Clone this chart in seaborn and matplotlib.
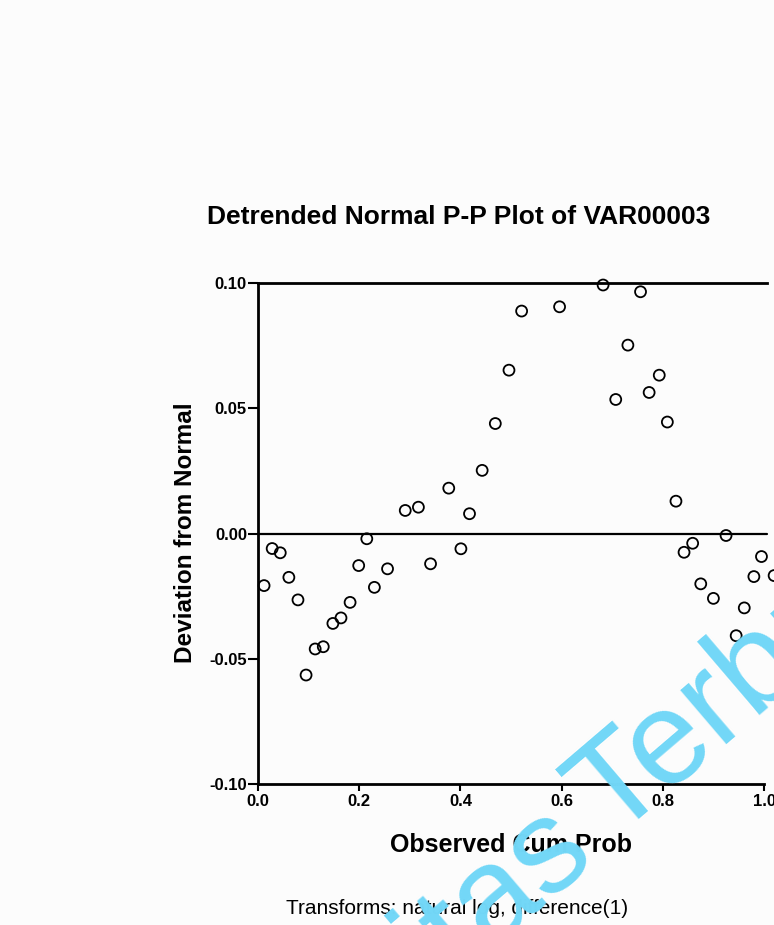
import numpy as np
import pandas as pd
import matplotlib
matplotlib.use("Agg")
import matplotlib.pyplot as plt
import seaborn as sns

# ---- data ----
observed_cum_prob = [0.012, 0.028, 0.044, 0.061, 0.079, 0.095, 0.113, 0.129, 0.148, 0.164,
                     0.182, 0.199, 0.215, 0.230, 0.256, 0.291, 0.317, 0.341, 0.377, 0.401,
                     0.418, 0.443, 0.469, 0.496, 0.521, 0.596, 0.682, 0.707, 0.731, 0.756,
                     0.773, 0.793, 0.809, 0.826, 0.842, 0.859, 0.875, 0.900, 0.925, 0.945,
                     0.961, 0.980, 0.995, 1.020]
deviation = [-0.0208, -0.0060, -0.0077, -0.0175, -0.0265, -0.0565, -0.0461, -0.0452, -0.0359, -0.0337,
             -0.0275, -0.0128, -0.0021, -0.0215, -0.0141, 0.0092, 0.0105, -0.0121, 0.0181, -0.0061,
             0.0079, 0.0252, 0.0439, 0.0652, 0.0888, 0.0905, 0.0992, 0.0535, 0.0752, 0.0965,
             0.0563, 0.0632, 0.0445, 0.0129, -0.0075, -0.0039, -0.0201, -0.0259, -0.0008, -0.0408,
             -0.0297, -0.0172, -0.0092, -0.0168]
x_ticks = [0.0, 0.2, 0.4, 0.6, 0.8, 1.0]
x_tick_labels = ["0.0", "0.2", "0.4", "0.6", "0.8", "1.0"]
y_ticks = [-0.10, -0.05, 0.00, 0.05, 0.10]
y_tick_labels = ["-0.10", "-0.05", "0.00", "0.05", "0.10"]
title = "Detrended Normal P-P Plot of VAR00003"
x_label = "Observed Cum Prob"
y_label = "Deviation from Normal"
caption = "Transforms: natural log, difference(1)"
watermark_words = ["Universitas", "Terbuka"]

df = pd.DataFrame({"x": observed_cum_prob, "y": deviation})

sns.set_theme(style="white")
plt.rcParams["font.family"] = ["Liberation Sans", "DejaVu Sans"]
plt.rcParams["text.color"] = "black"
plt.rcParams["xtick.color"] = "black"
plt.rcParams["ytick.color"] = "black"
plt.rcParams["axes.labelcolor"] = "black"

W, H = 774, 925
fig = plt.figure(figsize=(W / 100, H / 100), dpi=100, facecolor="#fcfcfc")
ax = fig.add_axes([258 / W, 141 / H, 506 / W, 501 / H])
ax.set_facecolor("#fcfcfc")

sns.scatterplot(data=df, x="x", y="y", ax=ax, marker="o", s=62,
                facecolors="none", edgecolor="black", linewidth=1.3,
                clip_on=False, zorder=3)

ax.axhline(0, xmin=0, xmax=1.005, color="black", lw=1.6, zorder=2, clip_on=False)
ax.set_xlim(0, 1.0)
ax.set_ylim(-0.10, 0.10)
ax.set_xticks(x_ticks)
ax.set_xticklabels(x_tick_labels, fontsize=12, fontweight="bold")
ax.set_yticks(y_ticks)
ax.set_yticklabels(y_tick_labels, fontsize=12, fontweight="bold")
ax.tick_params(axis="y", direction="out", length=7, width=1.5, color="black",
               pad=1, left=True)
ax.tick_params(axis="x", direction="out", length=5, width=1.5, color="black",
               pad=2, bottom=True)

for side in ["left", "bottom", "top"]:
    ax.spines[side].set_visible(True)
    ax.spines[side].set_color("black")
    ax.spines[side].set_linewidth(2)
ax.spines["right"].set_visible(False)
ax.spines["top"].set_bounds(0, 1.005)

ax.set_xlabel("")
ax.set_ylabel("")
fig.text(511 / W, 1 - 845 / H, x_label, ha="center", va="center",
         fontsize=18, fontweight="bold")
fig.text(186 / W, 1 - 533 / H, y_label, ha="center", va="center",
         rotation=90, fontsize=17.5, fontweight="bold")
fig.text(459 / W, 1 - 217 / H, title, ha="center", va="center",
         fontsize=19, fontweight="bold")
fig.text(457 / W, 1 - 908 / H, caption, ha="center", va="center",
         fontsize=15)

# watermark: two words along one rotated baseline
ang = 40.5
fs_wm = 96
gap = 20.0  # px between the words along the baseline
a = np.deg2rad(ang)
tx, ty = 612.0, H - 839.6  # pen position of "T" in display px (y up)
fig.text(tx / W, ty / H, watermark_words[1], fontsize=fs_wm, color="#72d7f7",
         rotation=ang, rotation_mode="anchor", ha="left", va="baseline", zorder=10)
ux, uy = tx - gap * np.cos(a), ty - gap * np.sin(a)
fig.text(ux / W, uy / H, watermark_words[0], fontsize=fs_wm, color="#72d7f7",
         rotation=ang, rotation_mode="anchor", ha="right", va="baseline", zorder=10)

fig.savefig("out.png", dpi=100, facecolor=fig.get_facecolor())
